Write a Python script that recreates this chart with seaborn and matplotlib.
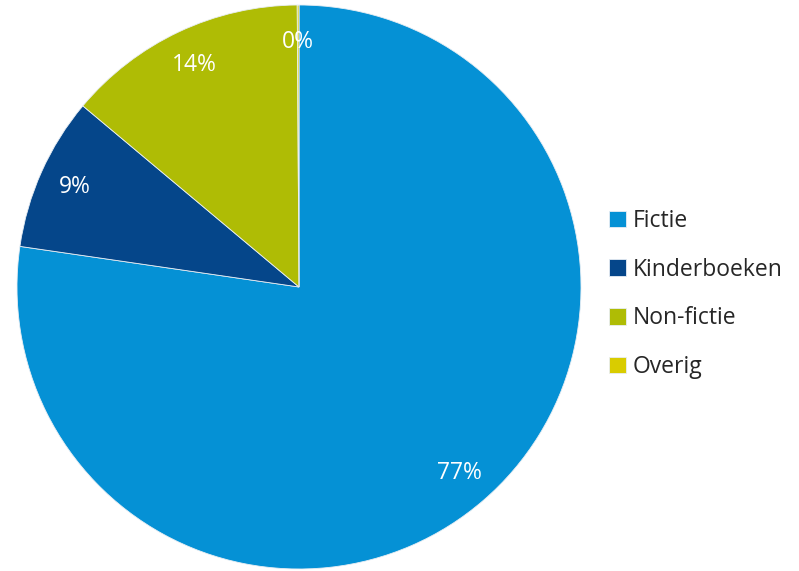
import matplotlib
matplotlib.use("Agg")
import matplotlib.pyplot as plt
import seaborn as sns

# data
categories = ["Fictie", "Kinderboeken", "Non-fictie", "Overig"]
shares = [77.3, 8.8, 13.8, 0.1]
colours = ["#0591d5", "#05468a", "#afbc05", "#d9cc00"]

sns.set_theme(style="white")
plt.rcParams["font.family"] = ["Open Sans", "DejaVu Sans"]

fig = plt.figure(figsize=(7.99, 5.71), dpi=100)
# center at (299, 287) px, radius 282 px
r_px = 282
ax = fig.add_axes([(299 - r_px) / 799, (571 - 287 - r_px) / 571, 2 * r_px / 799, 2 * r_px / 571])

wedges, texts, autotexts = ax.pie(
    shares,
    colors=colours,
    startangle=90,
    counterclock=False,
    autopct=lambda p: f"{p:.0f}%",
    pctdistance=0.87,
    textprops={"color": "white", "fontsize": 16.5},
    wedgeprops={"linewidth": 0.6, "edgecolor": "#e8eef4"},
)
ax.set_xlim(-1, 1)
ax.set_ylim(-1, 1)
ax.set_aspect("equal")

fig.legend(
    wedges, categories,
    loc="center left", bbox_to_anchor=(609 / 799, 1 - 294 / 571),
    frameon=False, fontsize=16.5,
    handlelength=0.72, handleheight=0.72, handletextpad=0.3,
    labelspacing=1.08, borderpad=0, borderaxespad=0,
)

fig.savefig("out.png", dpi=100)
